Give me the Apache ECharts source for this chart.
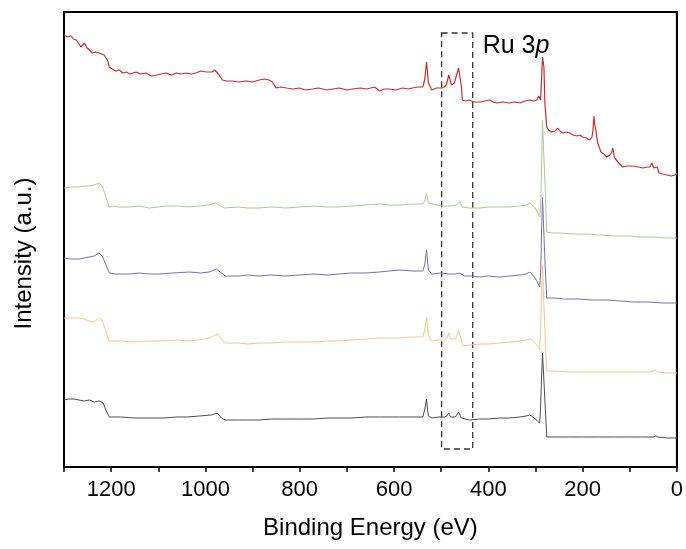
<!DOCTYPE html>
<html>
<head>
<meta charset="utf-8">
<script src="https://cdn.jsdelivr.net/npm/echarts@6/dist/echarts.min.js"></script>
<style>
html,body{margin:0;padding:0;background:#fff;}
#chart{width:686px;height:549px;}
</style>
</head>
<body>
<div id="chart"></div>
<script>
// Binding energy (eV) vs intensity (a.u., offset traces)
var redData = [[1300,432],[1293,430],[1285,431],[1280,428],[1274,427],[1268,423],[1264,420],[1257,424],[1251,419],[1246,417],[1240,414],[1233,415],[1226,414],[1220,413],[1215,412],[1211,414],[1207,406],[1204,400],[1198,398],[1190,396],[1183,397],[1175,394],[1168,395],[1160,393],[1147,395],[1138,393],[1126,394],[1115,391],[1104,392],[1094,393],[1083,394],[1072,392],[1062,394],[1052,393],[1041,394],[1030,393],[1020,394],[1010,396],[998,395],[986,395],[980,397],[977,399],[971,392],[964,387],[955,386],[943,386],[930,385],[913,386],[900,385],[886,387],[875,388],[865,387],[858,385],[850,379],[840,380],[828,379],[815,378],[801,379],[788,377],[773,378],[760,379],[743,377],[730,378],[716,379],[700,377],[688,378],[672,379],[658,378],[641,380],[631,376],[620,378],[610,378],[596,377],[582,379],[570,378],[561,379],[550,380],[539,380],[535,387],[531,405],[527,384],[520,377],[510,379],[499,379],[494,380],[489,382],[484,392],[478,382],[472,384],[469,385],[463,399],[457,380],[455,367],[448,366],[440,367],[430,365],[418,365],[408,366],[397,367],[390,365],[382,364],[370,365],[355,364],[345,365],[333,364],[322,366],[312,367],[304,366],[297,367],[293,371],[289,367],[285,410],[282,400],[280,364],[276,340],[272,337],[266,335],[258,336],[253,339],[248,336],[242,334],[235,335],[227,334],[220,332],[212,331],[206,332],[200,330],[192,329],[185,327],[180,330],[178,337],[176,351],[174,342],[172,337],[168,324],[161,315],[155,313],[149,310],[142,312],[138,315],[136,319],[132,309],[125,305],[115,300],[104,301],[93,301],[82,300],[72,299],[62,300],[57,300],[53,304],[49,299],[45,301],[42,300],[38,294],[30,293],[21,292],[12,291],[4,292],[0,294]];

var greenData = [[1300,279],[1285,280],[1270,280],[1258,281],[1247,281],[1236,282],[1226,284],[1219,281],[1211,270],[1204,260],[1195,261],[1183,260],[1160,260],[1140,261],[1119,259],[1100,260],[1080,261],[1056,261],[1035,260],[1013,261],[992,262],[979,264],[971,262],[960,259],[930,260],[910,259],[886,259],[860,260],[830,259],[801,260],[770,261],[740,260],[716,260],[690,261],[660,262],[631,263],[610,262],[588,262],[560,263],[539,263],[535,266],[531,274],[527,264],[525,262],[500,261],[482,261],[467,262],[461,265],[455,260],[440,259],[418,259],[400,260],[376,260],[355,260],[333,261],[320,262],[312,264],[302,260],[296,255],[291,250],[289,262],[287,297],[285,347],[283,320],[280,287],[276,235],[265,234],[249,234],[220,233],[190,233],[164,232],[130,231],[100,231],[79,230],[50,230],[25,229],[0,229]];

var purpleData = [[1300,209],[1285,208],[1268,208],[1257,209],[1247,210],[1236,211],[1226,214],[1219,211],[1211,202],[1204,194],[1190,193],[1162,193],[1140,194],[1119,193],[1098,193],[1070,194],[1034,195],[1010,194],[992,195],[977,198],[966,194],[958,191],[930,191],[910,192],[886,191],[860,192],[830,191],[801,192],[770,193],[740,192],[716,193],[690,194],[660,194],[631,195],[610,196],[588,197],[560,196],[539,196],[535,202],[531,217],[529,206],[527,197],[520,193],[500,194],[482,193],[470,193],[461,194],[450,191],[435,191],[418,190],[400,191],[376,190],[355,191],[333,192],[320,193],[312,195],[302,190],[296,185],[291,180],[289,195],[287,235],[285,270],[283,245],[280,207],[276,169],[260,169],[240,168],[206,168],[180,167],[150,167],[121,166],[90,165],[60,165],[30,164],[0,164]];

var orangeData = [[1300,149],[1285,149],[1268,149],[1257,148],[1247,146],[1236,145],[1226,149],[1219,147],[1211,135],[1204,126],[1180,126],[1150,125],[1119,126],[1090,126],[1060,127],[1040,126],[1013,127],[992,129],[975,133],[966,128],[958,124],[930,124],[910,123],[886,124],[860,124],[830,125],[801,125],[770,125],[740,126],[716,126],[690,127],[660,128],[631,129],[610,129],[588,129],[560,130],[539,130],[535,137],[531,150],[529,140],[527,132],[520,126],[505,127],[493,127],[488,129],[484,134],[480,128],[478,127],[470,128],[463,136],[457,127],[455,121],[440,122],[418,123],[400,123],[376,124],[355,125],[333,126],[320,127],[312,128],[302,125],[296,121],[291,117],[289,140],[287,175],[285,202],[283,175],[280,137],[276,96],[260,96],[230,95],[200,95],[164,95],[130,95],[100,95],[75,95],[57,95],[50,96],[45,97],[40,95],[36,94],[20,94],[0,94]];

var blackData = [[1300,67],[1290,68],[1279,68],[1268,67],[1257,66],[1246,67],[1236,65],[1226,66],[1217,64],[1211,57],[1204,50],[1180,50],[1150,49],[1119,49],[1090,49],[1060,50],[1040,50],[1013,51],[988,52],[975,54],[966,49],[958,47],[930,47],[910,47],[886,47],[860,48],[830,48],[801,48],[770,48],[740,49],[716,49],[690,49],[660,50],[631,50],[610,50],[588,50],[560,50],[539,50],[535,57],[531,68],[529,58],[527,51],[520,49],[505,50],[493,50],[488,51],[484,54],[480,50],[478,49],[470,50],[463,55],[457,49],[455,47],[440,47],[418,48],[400,48],[376,49],[355,49],[333,50],[320,51],[312,52],[302,49],[296,46],[291,44],[289,60],[287,90],[285,114],[283,95],[280,67],[276,30],[260,30],[230,30],[200,30],[164,30],[130,30],[100,30],[75,30],[57,30],[50,30],[45,31],[40,30],[36,29],[20,29],[0,29]];

var xTicks = {min: 0, max: 1300, step: 100, labelStep: 200};
var yRange = [0, 455];
var boxX = [433, 499];
var boxY = [18, 434];
var labelAt = [412, 421];
var labelText = ['Ru 3', 'p'];

var FONT = "'Liberation Sans', Arial, sans-serif";

function line(name, data, color, width, extra) {
  var s = {
    name: name, type: 'line', data: data, showSymbol: false, symbol: 'none',
    lineStyle: {color: color, width: width}, itemStyle: {color: color},
    animation: false, z: 3
  };
  if (extra) { for (var k in extra) s[k] = extra[k]; }
  return s;
}

var chart = echarts.init(document.getElementById('chart'), null, {renderer: 'canvas'});
chart.setOption({
  backgroundColor: '#ffffff',
  animation: false,
  grid: {left: 64, right: 8, top: 12, bottom: 82, show: true, borderColor: '#000', borderWidth: 2, backgroundColor: 'transparent'},
  xAxis: {
    type: 'value', inverse: true, min: xTicks.min, max: xTicks.max, interval: xTicks.step,
    name: 'Binding Energy (eV)', nameLocation: 'middle', nameGap: 49,
    nameTextStyle: {fontFamily: FONT, fontSize: 24, color: '#000'},
    axisLine: {show: true, onZero: false, lineStyle: {color: '#000', width: 2}},
    axisTick: {show: true, inside: false, length: 5, lineStyle: {color: '#000', width: 1.5}},
    axisLabel: {fontFamily: FONT, fontSize: 22, color: '#000', margin: 12,
      formatter: function (v) { return v % xTicks.labelStep === 0 && v < xTicks.max ? String(v) : ''; }},
    splitLine: {show: false}
  },
  yAxis: {
    type: 'value', min: yRange[0], max: yRange[1],
    name: 'Intensity (a.u.)', nameLocation: 'middle', nameGap: 28,
    nameTextStyle: {fontFamily: FONT, fontSize: 24, color: '#000', padding: [0, 28, 0, 0]},
    axisLine: {show: true, lineStyle: {color: '#000', width: 2}},
    axisTick: {show: false}, axisLabel: {show: false}, splitLine: {show: false}
  },
  series: [
    line('S1', blackData, '#4d4d4d', 1),
    line('S2', orangeData, '#f2c592', 1),
    line('S3', purpleData, '#7a70ad', 1),
    line('S4', greenData, '#abca90', 1, {
      markArea: {
        silent: true,
        itemStyle: {color: 'rgba(0,0,0,0)', borderColor: '#333', borderWidth: 1.3, borderType: [6, 4]},
        data: [[{xAxis: boxX[1], yAxis: boxY[1]}, {xAxis: boxX[0], yAxis: boxY[0]}]]
      }
    }),
    line('S5', redData, '#c62f31', 1.2, {
      markPoint: {
        symbol: 'circle', symbolSize: 0, silent: true,
        label: {show: true, position: 'right', distance: 0,
          formatter: '{a|' + labelText[0] + '}{b|' + labelText[1] + '}',
          rich: {a: {fontFamily: FONT, fontSize: 25, color: '#000'}, b: {fontFamily: FONT, fontSize: 25, fontStyle: 'italic', color: '#000'}}},
        data: [{coord: labelAt}]
      }
    })
  ]
});
</script>
</body>
</html>
